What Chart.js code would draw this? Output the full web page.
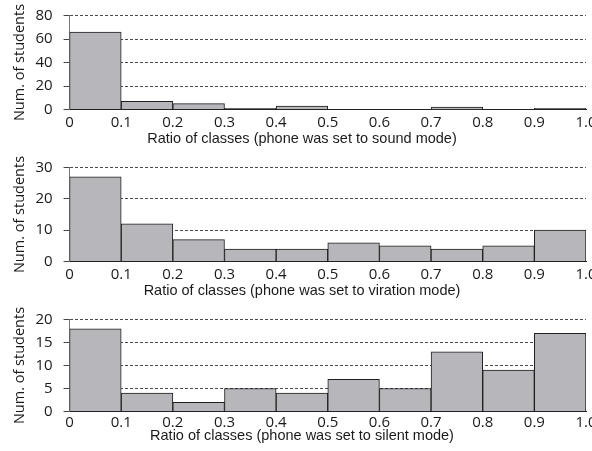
<!DOCTYPE html>
<html>
<head>
<meta charset="utf-8">
<script src="https://cdn.jsdelivr.net/npm/chart.js@4"></script>
<style>
  html, body { margin: 0; padding: 0; background: #fff; overflow: hidden; }
  body { width: 592px; height: 451px; position: relative; }
  .panel { position: absolute; left: 0; width: 616px; }
</style>
</head>
<body>
<div class="panel" style="top:-3.5px;height:154.5px"><canvas id="soundChart"></canvas></div>
<div class="panel" style="top:148.5px;height:154.5px"><canvas id="vibrationChart"></canvas></div>
<div class="panel" style="top:300.5px;height:150.5px"><canvas id="silentChart"></canvas></div>
<script>
// bin centres of the 0.1-wide histogram bins
const binCenters = [0.05, 0.15, 0.25, 0.35, 0.45, 0.55, 0.65, 0.75, 0.85, 0.95];

// number of students per bin
const soundCounts = [66, 7, 5, 1, 3, 0, 0, 2, 0, 1];
const vibrationCounts = [27, 12, 7, 4, 4, 6, 5, 4, 5, 10];
const silentCounts = [18, 4, 2, 5, 4, 7, 5, 13, 9, 17];

// y axis limits / steps
const soundTicks = { max: 80, step: 20 };
const vibrationTicks = { max: 30, step: 10 };
const silentTicks = { max: 20, step: 5 };

const xTitles = [
  "Ratio of classes (phone was set to sound mode)",
  "Ratio of classes (phone was set to viration mode)",
  "Ratio of classes (phone was set to silent mode)",
];
const yTitle = "Num. of students";

const tickFont = { family: "'Open Sans', sans-serif", size: 15, lineHeight: 1.0 };
const textColor = "#1a1a1a";

// spacing under the x axis (the bottom panel is a bit tighter)
const wideGap = { tickPad: 5.5, title: { top: -5, bottom: 5 } };
const tightGap = { tickPad: 4, title: { top: -7, bottom: 8 } };

function makeHistogram(canvasId, counts, yTicks, xTitle, gap) {
  const ctx = document.getElementById(canvasId).getContext("2d");
  const points = counts.map((c, i) => ({ x: binCenters[i], y: c }));

  return new Chart(ctx, {
    type: "bar",
    data: {
      datasets: [
        {
          data: points,
          backgroundColor: "#b7b7bb",
          borderColor: "#1e1e1e",
          borderWidth: 1,
          barPercentage: 1,
          categoryPercentage: 1,
        },
      ],
    },
    options: {
      responsive: true,
      maintainAspectRatio: false,
      animation: false,
      // the wide left padding keeps the bottom title centred like the original
      layout: { padding: { left: 18, right: 30, top: 0, bottom: 0 } },
      plugins: {
        legend: { display: false },
        tooltip: { enabled: false },
        title: {
          display: true,
          position: "bottom",
          text: xTitle,
          color: textColor,
          font: { family: "'Liberation Sans', Arial, sans-serif", size: 14.5, weight: "normal", lineHeight: 1.1 },
          padding: gap.title,
        },
      },
      scales: {
        x: {
          type: "linear",
          min: 0,
          max: 1,
          offset: false,
          grid: { display: false, drawTicks: false, tickLength: 0, offset: false },
          border: { display: true, color: "#222", width: 1 },
          ticks: {
            stepSize: 0.1,
            padding: gap.tickPad,
            color: textColor,
            font: tickFont,
            maxRotation: 0,
            autoSkip: false,
            callback: (v) => (v === 0 ? "0" : v.toFixed(1)),
          },
        },
        y: {
          min: 0,
          max: yTicks.max,
          grid: {
            color: (c) => (c.tick && c.tick.value === 0 ? "rgba(0,0,0,0)" : "#4a4a4a"),
            lineWidth: 1,
            drawTicks: true,
            tickLength: 6,
            tickColor: "#444",
            tickBorderDash: [],
          },
          border: { display: true, color: "#777", width: 1, dash: [3, 2] },
          ticks: {
            stepSize: yTicks.step,
            padding: 11,
            color: textColor,
            font: tickFont,
          },
          title: {
            display: true,
            text: yTitle,
            color: textColor,
            font: { family: "'Open Sans', sans-serif", size: 14.5, lineHeight: 1.2 },
            padding: { top: -7, bottom: -4 },
          },
        },
      },
    },
  });
}

makeHistogram("soundChart", soundCounts, soundTicks, xTitles[0], wideGap);
makeHistogram("vibrationChart", vibrationCounts, vibrationTicks, xTitles[1], wideGap);
makeHistogram("silentChart", silentCounts, silentTicks, xTitles[2], tightGap);
</script>
</body>
</html>
